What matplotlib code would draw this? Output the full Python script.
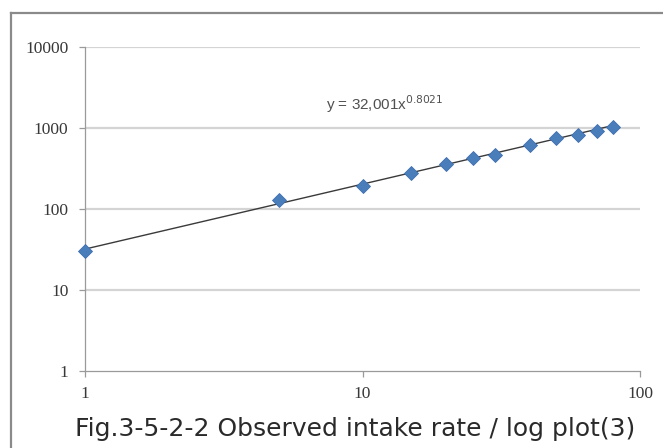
import matplotlib
matplotlib.use("Agg")
import matplotlib.pyplot as plt
from matplotlib.lines import Line2D
import numpy as np

x_vals = [1, 5, 10, 15, 20, 25, 30, 40, 50, 60, 70, 80]
y_vals = [30, 130, 195, 275, 355, 430, 470, 620, 750, 820, 920, 1030]
fit_a = 32.001
fit_b = 0.8021
x_ticks = [1, 10, 100]
y_ticks = [1, 10, 100, 1000, 10000]
fit_label = r"y = 32,001x$^{0.8021}$"
caption = "Fig.3-5-2-2 Observed intake rate / log plot(3)"

fig = plt.figure(figsize=(6.63, 4.48), dpi=100)
ax = fig.add_axes([85/663, 1 - 371/448, 555/663, 324/448])
ax.set_xscale("log")
ax.set_yscale("log")
ax.set_xlim(1, 100)
ax.set_ylim(1, 10000)

for yt in y_ticks[1:]:
    ax.axhline(yt, color="#d4d4d4", lw=1.6, zorder=0)

xs = np.logspace(np.log10(x_vals[0]), np.log10(x_vals[-1]), 100)
ax.plot(xs, fit_a * xs ** fit_b, color="#3a3a3a", lw=1.0, zorder=2)
ax.plot(x_vals, y_vals, linestyle="none", marker="D", markersize=7,
        color="#4a7ebb", markeredgecolor="#3d6db0", markeredgewidth=0.6,
        zorder=3, clip_on=False)

ax.text(7.4, 1650, fit_label, fontsize=11, color="#505050",
        family="Liberation Sans", va="baseline")

ax.set_xticks(x_ticks)
ax.set_xticklabels([str(v) for v in x_ticks])
ax.set_yticks(y_ticks)
ax.set_yticklabels([str(v) for v in y_ticks])
ax.minorticks_off()
for s in ["top", "right"]:
    ax.spines[s].set_visible(False)
for s in ["left", "bottom"]:
    ax.spines[s].set_color("#9a9a9a")
    ax.spines[s].set_linewidth(0.9)
ax.tick_params(axis="both", colors="#9a9a9a", labelcolor="#383838",
               labelsize=12.5, length=4, width=0.9)
ax.tick_params(axis="x", pad=7)
ax.tick_params(axis="y", pad=8)
for lab in ax.get_xticklabels() + ax.get_yticklabels():
    lab.set_family("Liberation Serif")

fig.add_artist(Line2D([11/663, 1.0], [1 - 13/448, 1 - 13/448], color="#8a8a8a",
                      lw=1.6, transform=fig.transFigure))
fig.add_artist(Line2D([11/663, 11/663], [0, 1 - 13/448], color="#8a8a8a",
                      lw=1.6, transform=fig.transFigure))

fig.text(355/663, 1 - 429/448, caption, ha="center", va="center", fontsize=18,
         color="#2a2a2a", family="DejaVu Sans")

fig.savefig("out.png", dpi=100)
